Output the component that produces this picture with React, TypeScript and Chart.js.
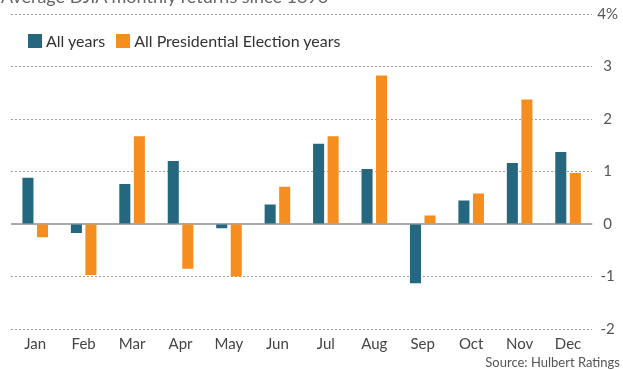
import React, { useEffect, useRef } from "react";
import { Chart, registerables } from "chart.js";

Chart.register(...registerables);

const months = ["Jan", "Feb", "Mar", "Apr", "May", "Jun", "Jul", "Aug", "Sep", "Oct", "Nov", "Dec"];
const allYears = [0.88, -0.17, 0.76, 1.2, -0.08, 0.37, 1.53, 1.05, -1.13, 0.45, 1.16, 1.37];
const electionYears = [-0.25, -0.97, 1.67, -0.85, -1.0, 0.71, 1.67, 2.83, 0.16, 0.58, 2.37, 0.97];
const yTicks = [-2, -1, 0, 1, 2, 3, 4];

const BLUE = "#24677e";
const ORANGE = "#f68d1f";

const zeroLine = {
  id: "zeroLine",
  beforeDatasetsDraw(chart: any) {
    const { ctx, chartArea, scales } = chart;
    const y = scales.y.getPixelForValue(0);
    ctx.save();
    ctx.strokeStyle = "#8c8c8c";
    ctx.lineWidth = 1.5;
    ctx.beginPath();
    ctx.moveTo(chartArea.left, y);
    ctx.lineTo(chartArea.right, y);
    ctx.stroke();
    ctx.restore();
  },
};

export default function App() {
  const ref = useRef<HTMLCanvasElement>(null);
  useEffect(() => {
    if (!ref.current) return;
    const chart = new Chart(ref.current, {
      type: "bar",
      data: {
        labels: months,
        datasets: [
          { label: "All years", data: allYears, backgroundColor: BLUE, categoryPercentage: 0.6, barPercentage: 0.76 },
          { label: "All Presidential Election years", data: electionYears, backgroundColor: ORANGE, categoryPercentage: 0.6, barPercentage: 0.76 },
        ],
      },
      plugins: [zeroLine],
      options: {
        animation: false,
        responsive: false,
        maintainAspectRatio: false,
        layout: { padding: { top: 14, left: 11, right: 0, bottom: 11 } },
        plugins: { legend: { display: false }, tooltip: { enabled: false }, title: { display: false } },
        scales: {
          x: {
            grid: { display: false, drawTicks: false },
            border: { display: false },
            ticks: { color: "#444", font: { family: "Lato", size: 15 }, padding: 6 },
          },
          y: {
            position: "right",
            min: -2,
            max: 4,
            afterBuildTicks: (axis: any) => {
              axis.ticks = yTicks.map((v) => ({ value: v }));
            },
            grid: {
              drawTicks: false,
              color: (c: any) => (c.tick && c.tick.value === 0 ? "rgba(0,0,0,0)" : "#9a9a9a"),
              lineWidth: 1,
            },
            border: { display: false, dash: [2, 2] },
            ticks: {
              color: "#555",
              font: { family: "Lato", size: 15 },
              padding: 5,
              crossAlign: "center",
              callback: (v: any) => (v === 4 ? "4%" : String(v)),
            },
          },
        },
      },
    });
    return () => chart.destroy();
  }, []);

  return (
    <div style={{ position: "absolute", left: 0, top: 0, width: 623, height: 370, overflow: "hidden", background: "#fff", fontFamily: "Lato" }}>
      <canvas ref={ref} width={623} height={370} style={{ position: "absolute", left: 0, top: 0 }} />
      <div style={{ position: "absolute", left: 1, top: -13, fontSize: 18, lineHeight: "18px", color: "#666", whiteSpace: "nowrap" }}>
        Average DJIA monthly returns since 1896
      </div>
      <div style={{ position: "absolute", left: 28, top: 32, display: "flex", alignItems: "center", fontSize: 16, lineHeight: "18px", color: "#333" }}>
        <span style={{ display: "inline-block", width: 14, height: 14, background: BLUE, marginRight: 4 }} />
        <span style={{ marginRight: 11 }}>All years</span>
        <span style={{ display: "inline-block", width: 14, height: 14, background: ORANGE, marginRight: 4 }} />
        <span>All Presidential Election years</span>
      </div>
      <div style={{ position: "absolute", right: 3, top: 355, fontSize: 13, lineHeight: "15px", color: "#555", whiteSpace: "nowrap" }}>
        Source: Hulbert Ratings
      </div>
    </div>
  );
}
